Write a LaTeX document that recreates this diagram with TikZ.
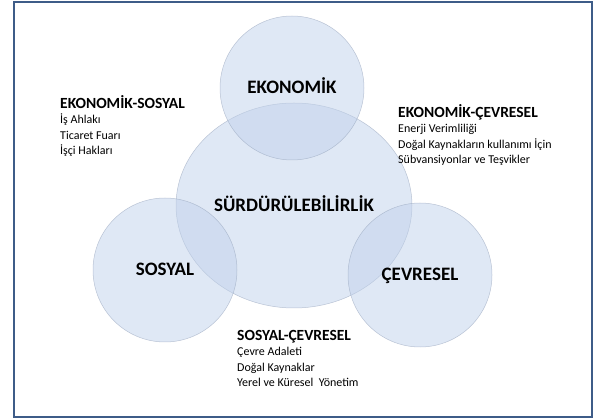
\documentclass[tikz,border=0pt]{standalone}
\usepackage{fontspec}
\setmainfont{Carlito}
\usetikzlibrary{shapes.geometric,positioning}
\definecolor{framblue}{RGB}{62,92,136}
\definecolor{circfill}{RGB}{192,209,235}
\definecolor{circline}{RGB}{150,164,188}
\newcommand{\pairhd}[1]{{\fontsize{15.5}{15.5}\selectfont\bfseries #1}}

\begin{document}
\begin{tikzpicture}[x=1pt,y=-1pt]

  \tikzstyle{pillar} = [circle,draw=circline,fill=circfill,fill opacity=0.5,draw opacity=0.6,text opacity=1,line width=0.5pt,minimum size=144pt,inner sep=0pt,font=\fontsize{19}{22}\selectfont\bfseries,text height=12pt,text depth=0pt]
  \tikzstyle{core} = [pillar,ellipse,minimum width=236pt,minimum height=205pt]
  \tikzstyle{pairtext} = [anchor=north west,inner sep=0pt,align=left,font=\fontsize{12}{15.5}\selectfont]

  \useasboundingbox (0,0) rectangle (594,419);
  \draw[framblue,line width=2pt] (14,2) rectangle (592,417);

  \node[core] (surd) at (294,205.5) {SÜRDÜRÜLEBİLİRLİK};

  \foreach \name/\x/\y/\txt in {eko/292/88/EKONOMİK, sos/165/270/SOSYAL, cev/420/275/ÇEVRESEL} {
    \node[pillar] (\name) at (\x,\y) {\txt};
  }

  \node[pairtext] (ekosos) at (60,95) {\pairhd{EKONOMİK-SOSYAL}\\İş Ahlakı\\Ticaret Fuarı\\İşçi Hakları};
  \node[pairtext] (ekocev) at (398,104) {\pairhd{EKONOMİK-ÇEVRESEL}\\Enerji Verimliliği\\Doğal Kaynakların kullanımı İçin\\Sübvansiyonlar ve Teşvikler};
  \node[pairtext] (soscev) at (237,330) {\pairhd{SOSYAL-ÇEVRESEL}\\Çevre Adaleti\\Doğal Kaynaklar\\Yerel ve Küresel\ \ Yönetim};

\end{tikzpicture}
\end{document}
